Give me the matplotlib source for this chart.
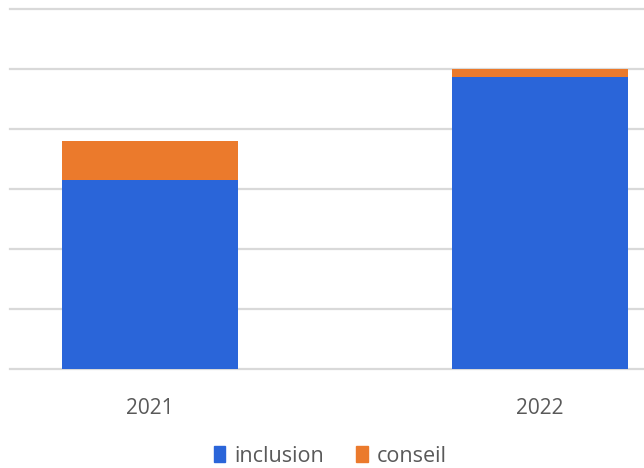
import matplotlib
matplotlib.use("Agg")
import matplotlib.pyplot as plt
from matplotlib.patches import Patch

categories = ["2021", "2022"]
inclusion = [3.15, 4.87]
conseil = [0.65, 0.13]

plt.rcParams['font.family'] = ['Open Sans', 'DejaVu Sans']

fig = plt.figure(figsize=(6.44, 4.68), dpi=100)
ax = fig.add_axes([10/644, (468-369)/468, 634/644, 360/468])

x = range(len(categories))
blue = "#2A65D9"
orange = "#EB7A2C"
ax.bar(x, inclusion, width=0.451, color=blue, zorder=3)
ax.bar(x, conseil, bottom=inclusion, width=0.451, color=orange, zorder=3)

ax.set_ylim(0, 6)
ax.set_xlim(-0.359, 1.267)
ax.set_yticks(range(0, 7))
ax.yaxis.grid(True, color="#d9d9d9", linewidth=1.6, zorder=0)
for gl in ax.get_ygridlines():
    gl.set_clip_on(False)
ax.tick_params(axis='y', left=False, labelleft=False)
ax.set_xticks(list(x))
ax.set_xticklabels(categories, fontsize=15, color="#595959")
ax.tick_params(axis='x', length=0, pad=21)
for s in ax.spines.values():
    s.set_visible(False)

handles = [Patch(color=blue, label="inclusion"), Patch(color=orange, label="conseil")]
fig.legend(handles=handles, loc="center", bbox_to_anchor=(330/644, 1 - 456/468), ncol=2,
           frameon=False, fontsize=15.5, labelcolor="#595959", handlelength=0.55,
           handleheight=0.7, handletextpad=0.4, columnspacing=1.5)

fig.savefig("out.png", dpi=100)
